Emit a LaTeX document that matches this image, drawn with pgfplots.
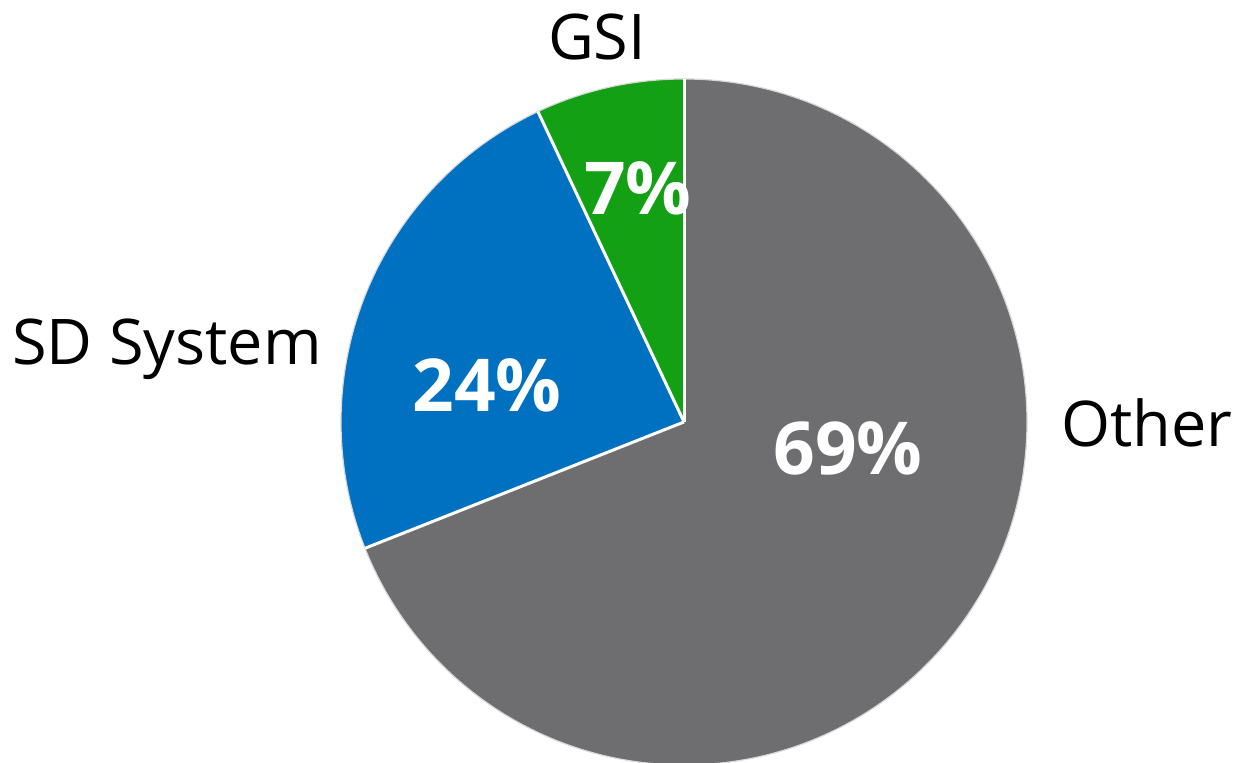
\documentclass[border=0pt]{standalone}
\usepackage{pgfplots}
\pgfplotsset{compat=1.18}
\usepackage{pgfplotstable}
\usepackage{fontspec}
\setmainfont{Open Sans}
\definecolor{cOther}{HTML}{6E6E70}
\definecolor{cSD}{HTML}{0070C0}
\definecolor{cGSI}{HTML}{13A015}
\definecolor{cEdge}{HTML}{D9D9D9}
\pgfplotstableread{
name share
Other 69
SD 24
GSI 7
}\piedata
\begin{document}
\begin{tikzpicture}
\pgfplotstablegetelem{0}{share}\of\piedata \let\vOther\pgfplotsretval
\pgfplotstablegetelem{1}{share}\of\piedata \let\vSD\pgfplotsretval
\pgfplotstablegetelem{2}{share}\of\piedata \let\vGSI\pgfplotsretval
\pgfmathsetmacro{\aA}{90}
\pgfmathsetmacro{\aB}{90-3.6*\vOther}
\pgfmathsetmacro{\aC}{\aB-3.6*\vSD}
\pgfmathsetmacro{\aD}{\aC-3.6*\vGSI}
\begin{axis}[
  width=618.5pt, height=381.5pt, scale only axis,
  xmin=0, xmax=1237, ymin=0, ymax=763,
  hide axis, clip=true,
]
\def\R{171.5pt}
\fill[cOther] (axis cs:684,341) -- ++(\aA:\R) arc[start angle=\aA, end angle=\aB, radius=\R] -- cycle;
\fill[cSD] (axis cs:684,341) -- ++(\aB:\R) arc[start angle=\aB, end angle=\aC, radius=\R] -- cycle;
\fill[cGSI] (axis cs:684,341) -- ++(\aC:\R) arc[start angle=\aC, end angle=\aD, radius=\R] -- cycle;
\draw[cEdge, line width=0.6pt] (axis cs:684,341) circle[radius=\R];
\draw[white, line width=1.5pt] (axis cs:684,341) -- ++(\aA:\R);
\draw[white, line width=1.5pt] (axis cs:684,341) -- ++(\aB:\R);
\draw[white, line width=1.5pt] (axis cs:684,341) -- ++(\aC:\R);
\node[anchor=base, font=\fontsize{31.5pt}{36pt}\selectfont] at (axis cs:597,703) {GSI};
\node[anchor=base, font=\fontsize{31.5pt}{36pt}\selectfont] at (axis cs:167,398) {SD System};
\node[anchor=base, font=\fontsize{31.5pt}{36pt}\selectfont] at (axis cs:1147,316) {Other};
\node[anchor=base, text=white, font=\bfseries\fontsize{36.5pt}{40pt}\selectfont] at (axis cs:487,351) {\vSD\%};
\node[anchor=base, text=white, font=\bfseries\fontsize{36.5pt}{40pt}\selectfont] at (axis cs:848,288) {\vOther\%};
\node[anchor=base, text=white, font=\bfseries\fontsize{36.5pt}{40pt}\selectfont] at (axis cs:638,548) {\vGSI\%};
\end{axis}
\pgfresetboundingbox
\path[use as bounding box] (current axis.south west) rectangle (current axis.north east);
\end{tikzpicture}
\end{document}
